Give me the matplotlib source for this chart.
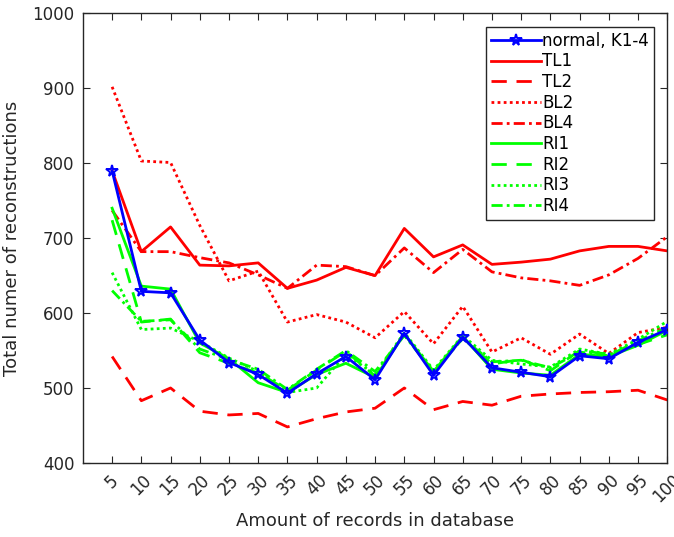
import matplotlib

matplotlib.use("Agg")
import matplotlib.pyplot as plt  # noqa: E402

plt.rcParams["font.family"] = ["DejaVu Sans"]

INK = "#262626"

records = [5, 10, 15, 20, 25, 30, 35, 40, 45, 50, 55, 60, 65, 70, 75, 80, 85, 90, 95, 100]

normal = [790, 629, 627, 564, 534, 518, 493, 519, 542, 511,
          573, 517, 568, 527, 521, 515, 543, 539, 561, 578]
tl1 = [790, 682, 715, 664, 663, 667, 633, 644, 661, 650,
       713, 675, 691, 665, 668, 672, 683, 689, 689, 683]
tl2 = [542, 483, 500, 469, 464, 466, 448, 459, 468, 473,
       500, 471, 482, 477, 489, 492, 494, 495, 497, 484]
bl2 = [902, 803, 801, 717, 643, 656, 588, 598, 588, 567,
       602, 559, 609, 548, 567, 545, 572, 546, 574, 581]
bl4 = [737, 682, 682, 674, 667, 651, 633, 664, 662, 650,
       687, 654, 685, 655, 647, 643, 637, 651, 673, 702]
ri1 = [740, 636, 632, 560, 539, 507, 494, 518, 533, 514,
       572, 522, 569, 525, 520, 517, 545, 542, 557, 577]
ri2 = [724, 588, 592, 547, 533, 520, 497, 524, 549, 516,
       572, 520, 567, 532, 538, 523, 550, 545, 558, 571]
ri3 = [654, 578, 580, 562, 540, 522, 494, 500, 545, 518,
       574, 524, 570, 537, 532, 528, 552, 545, 565, 589]
ri4 = [630, 589, 591, 552, 538, 525, 498, 525, 550, 522,
       570, 522, 566, 535, 537, 527, 548, 543, 563, 581]

fig = plt.figure(figsize=(6.74, 5.37), dpi=100)
ax = fig.add_axes([0.123, 0.138, 0.867, 0.837])

lw = 2
ax.plot(records, normal, color="#0000ff", lw=lw, marker="*", ms=8.5,
        mfc="none", mew=1.4, label="normal, K1-4", zorder=5)
ax.plot(records, tl1, color="#ff0000", lw=lw, ls="-", label="TL1")
ax.plot(records, tl2, color="#ff0000", lw=lw, ls=(0, (5.5, 3.5)), label="TL2")
ax.plot(records, bl2, color="#ff0000", lw=lw, ls=(0, (1, 1.2)), label="BL2")
ax.plot(records, bl4, color="#ff0000", lw=lw, ls=(0, (4, 1.5, 1, 1.5)), label="BL4")
ax.plot(records, ri1, color="#00ff00", lw=lw, ls="-", label="RI1")
ax.plot(records, ri2, color="#00ff00", lw=lw, ls=(0, (5.5, 3.5)), label="RI2")
ax.plot(records, ri3, color="#00ff00", lw=lw, ls=(0, (1, 1.2)), label="RI3")
ax.plot(records, ri4, color="#00ff00", lw=lw, ls=(0, (4, 1.5, 1, 1.5)), label="RI4")

ax.set_xlim(0, 100)
ax.set_ylim(400, 1000)
ax.set_xticks(records)
ax.set_xticklabels([str(r) for r in records], rotation=45, ha="center", va="top")
ax.set_yticks(range(400, 1001, 100))

ax.tick_params(direction="in", length=5, width=0.8, colors=INK, labelsize=12,
               top=True, right=True, pad=6)
for sp in ax.spines.values():
    sp.set_color(INK)
    sp.set_linewidth(1)

ax.set_xlabel("Amount of records in database", fontsize=13, color=INK, labelpad=4)
ax.set_ylabel("Total numer of reconstructions", fontsize=13, color=INK, labelpad=8)

leg = ax.legend(loc="upper right", fontsize=12, frameon=True, fancybox=False,
                edgecolor=INK, framealpha=1, handlelength=3.0, handletextpad=0.1,
                labelspacing=0.16, borderpad=0.3, borderaxespad=0.8)
leg.get_frame().set_linewidth(1)

fig.savefig("out.png", dpi=100)
